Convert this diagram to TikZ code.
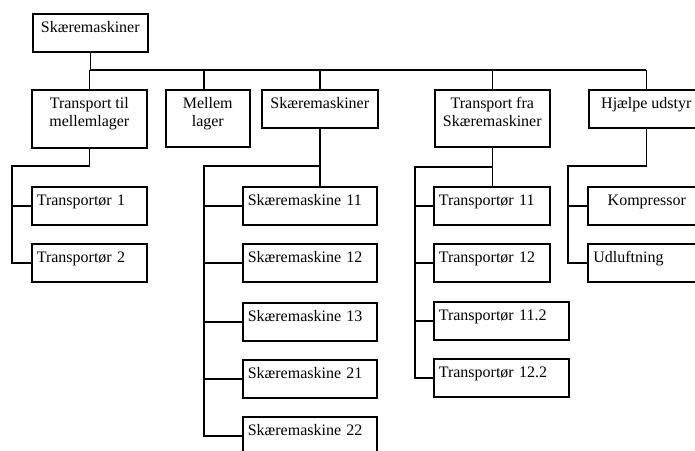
\documentclass[tikz,border=0pt]{standalone}
\usepackage{fontspec}
\setmainfont{Liberation Serif}
\begin{document}
\begin{tikzpicture}[x=0.75pt,y=-0.75pt,
  line width=1.2pt,
  bx/.style={draw, line width=1.2pt, anchor=north west, inner sep=0pt,
    text height=7.5pt, font=\fontsize{12}{13.5}\selectfont},
  one/.style={minimum height=28.5pt, text depth=7.5pt},
  two/.style={minimum height=43.5pt, text depth=22.5pt},
  lft/.style={text width=#1, align=left},
  wd/.style={minimum width=#1}]
\useasboundingbox (0,0) rectangle (695,450);
\clip (0,0) rectangle (695,450);
% level 1 and 2
\node[bx,one,wd=86.25pt] (top) at (32,13) {Skæremaskiner};
\node[bx,two,wd=86.25pt] (tml) at (31,89) {\begin{tabular}[t]{@{}c@{}}Transport til\\mellemlager\end{tabular}};
\node[bx,two,wd=63pt,minimum height=42.75pt] (mel) at (165,89) {\begin{tabular}[t]{@{}c@{}}Mellem\\lager\end{tabular}};
\node[bx,one,wd=87pt] (skm) at (261,89) {Skæremaskiner};
\node[bx,two,wd=86.25pt,minimum height=42.75pt] (tfs) at (434,89) {\begin{tabular}[t]{@{}c@{}}Transport fra\\Skæremaskiner\end{tabular}};
\node[bx,one,wd=86.25pt] (hju) at (588,89) {Hjælpe udstyr};
% level 3
\node[bx,one,wd=86.25pt,lft=78.75pt] (t1) at (31,186) {Transportør 1};
\node[bx,one,wd=86.25pt,lft=78.75pt] (t2) at (31,243) {Transportør 2};
\node[bx,one,wd=100.5pt,lft=93pt] (s11) at (242,186) {Skæremaskine 11};
\node[bx,one,wd=100.5pt,lft=93pt] (s12) at (242,243) {Skæremaskine 12};
\node[bx,one,wd=100.5pt,lft=93pt] (s13) at (242,302) {Skæremaskine 13};
\node[bx,one,wd=100.5pt,lft=93pt] (s21) at (242,359) {Skæremaskine 21};
\node[bx,one,wd=100.5pt,lft=93pt] (s22) at (242,416) {Skæremaskine 22};
\node[bx,one,wd=87pt,lft=79.5pt] (r11) at (433,186) {Transportør 11};
\node[bx,one,wd=87pt,lft=79.5pt] (r12) at (433,243) {Transportør 12};
\node[bx,one,wd=101.25pt,lft=93.75pt] (r112) at (433,301) {Transportør 11.2};
\node[bx,one,wd=101.25pt,lft=93.75pt] (r122) at (433,358) {Transportør 12.2};
\node[bx,one,wd=88.5pt] (kmp) at (587,186) {Kompressor};
\node[bx,one,wd=88.5pt,lft=80.25pt] (udl) at (587,243) {Udluftning};
% main bus
\coordinate (bus) at (0,70);
\draw (top.south) -- (top.south |- bus) -- (hju.north |- bus);
\draw (tml.north) -- (tml.north |- bus);
\draw ([xshift=-3pt]mel.north) -- ([xshift=-3pt]mel.north |- bus);
\draw (skm.north) -- (skm.north |- bus);
\draw (tfs.north) -- (tfs.north |- bus);
\draw (hju.north) -- (hju.north |- bus);
% left group
\coordinate (la) at (12,166);
\draw (tml.south) -- (tml.south |- la) -- (la) -- (la |- t2.west) -- (t2.west);
\draw (la |- t1.west) -- (t1.west);
% cutting machines group
\coordinate (sa) at (204,166);
\draw (skm.south) -- (skm.south |- s11.north);
\draw (skm.south |- sa) -- (sa) -- (sa |- s22.west) -- (s22.west);
\draw (sa |- s11.west) -- (s11.west);
\draw (sa |- s12.west) -- (s12.west);
\draw (sa |- s13.west) -- (s13.west);
\draw (sa |- s21.west) -- (s21.west);
% transport group
\coordinate (ta) at (415,167);
\draw (tfs.south) -- (tfs.south |- r11.north);
\draw (tfs.south |- ta) -- (ta) -- (ta |- r122.west) -- (r122.west);
\draw (ta |- r11.west) -- (r11.west);
\draw (ta |- r12.west) -- (r12.west);
\draw (ta |- r112.west) -- (r112.west);
% auxiliary group
\coordinate (ha) at (568,166);
\draw (hju.south) -- (hju.south |- ha) -- (ha) -- (ha |- udl.west) -- (udl.west);
\draw (ha |- kmp.west) -- (kmp.west);
\end{tikzpicture}
\end{document}
